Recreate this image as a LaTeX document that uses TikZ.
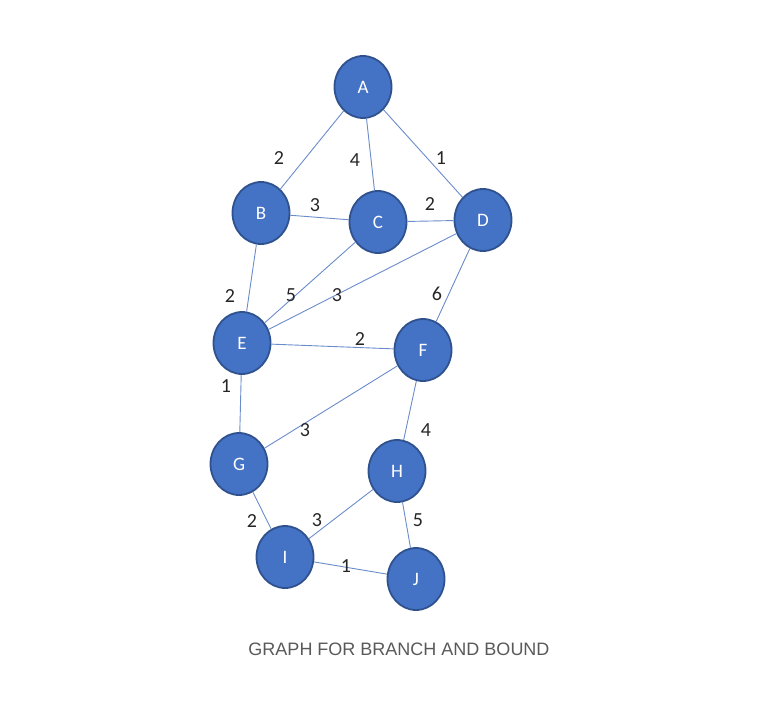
\documentclass[tikz,border=0pt]{standalone}
\usepackage{fontspec}
\setmainfont{Carlito}
\newfontfamily\capfont{Liberation Sans}
\usetikzlibrary{shapes.geometric}
\definecolor{nodefill}{HTML}{4472C4}
\definecolor{nodeedge}{HTML}{2F528F}
\definecolor{edgecol}{HTML}{6A8CCB}
\definecolor{labcol}{HTML}{262626}
\definecolor{capcol}{HTML}{595959}
\begin{document}
\begin{tikzpicture}[x=1pt,y=-1pt,
  vtx/.style={ellipse,draw=nodeedge,fill=nodefill,line width=1.8pt,minimum width=57pt,minimum height=62pt,inner sep=0pt,text=white,font=\fontsize{19}{19}\selectfont},
  wt/.style={text=labcol,font=\fontsize{20}{20}\selectfont,inner sep=0pt},
  edge/.style={draw=edgecol,line width=0.9pt}]
\useasboundingbox (0,0) rectangle (783,703);
\node[vtx] (A) at (363,87) {A};
\node[vtx] (B) at (261,213) {B};
\node[vtx] (C) at (378,222) {C};
\node[vtx] (D) at (483,220) {D};
\node[vtx] (E) at (242,343) {E};
\node[vtx] (F) at (423,350) {F};
\node[vtx] (G) at (239,464) {G};
\node[vtx] (H) at (397,471) {H};
\node[vtx] (I) at (285,557) {I};
\node[vtx] (J) at (416,579) {J};
\path[edge] (A) -- (B);
\path[edge] (A) -- (C);
\path[edge] (A) -- (D);
\path[edge] (B) -- (C);
\path[edge] (C) -- (D);
\path[edge] (B) -- (E);
\path[edge] (E) -- (C);
\path[edge] (E) -- (D);
\path[edge] (D) -- (F);
\path[edge] (E) -- (F);
\path[edge] (E) -- (G);
\path[edge] (G) -- (F);
\path[edge] (F) -- (H);
\path[edge] (G) -- (I);
\path[edge] (I) -- (H);
\path[edge] (H) -- (J);
\path[edge] (I) -- (J);
\node[wt] (wAB) at (279,158) {2};
\node[wt] (wAC) at (355,160) {4};
\node[wt] (wAD) at (441,158) {1};
\node[wt] (wBC) at (315,205) {3};
\node[wt] (wCD) at (430,204) {2};
\node[wt] (wBE) at (230,296) {2};
\node[wt] (wEC) at (291,295) {5};
\node[wt] (wED) at (337,295) {3};
\node[wt] (wDF) at (437,294) {6};
\node[wt] (wEF) at (360,339) {2};
\node[wt] (wEG) at (226,386) {1};
\node[wt] (wGF) at (305,430) {3};
\node[wt] (wFH) at (426,430) {4};
\node[wt] (wGI) at (252,521) {2};
\node[wt] (wIH) at (317,520) {3};
\node[wt] (wHJ) at (418,520) {5};
\node[wt] (wIJ) at (346,566) {1};
\node[text=capcol,font=\capfont\fontsize{18}{18}\selectfont,inner sep=0pt] (cap) at (399,649) {GRAPH FOR BRANCH AND BOUND};
\end{tikzpicture}
\end{document}
